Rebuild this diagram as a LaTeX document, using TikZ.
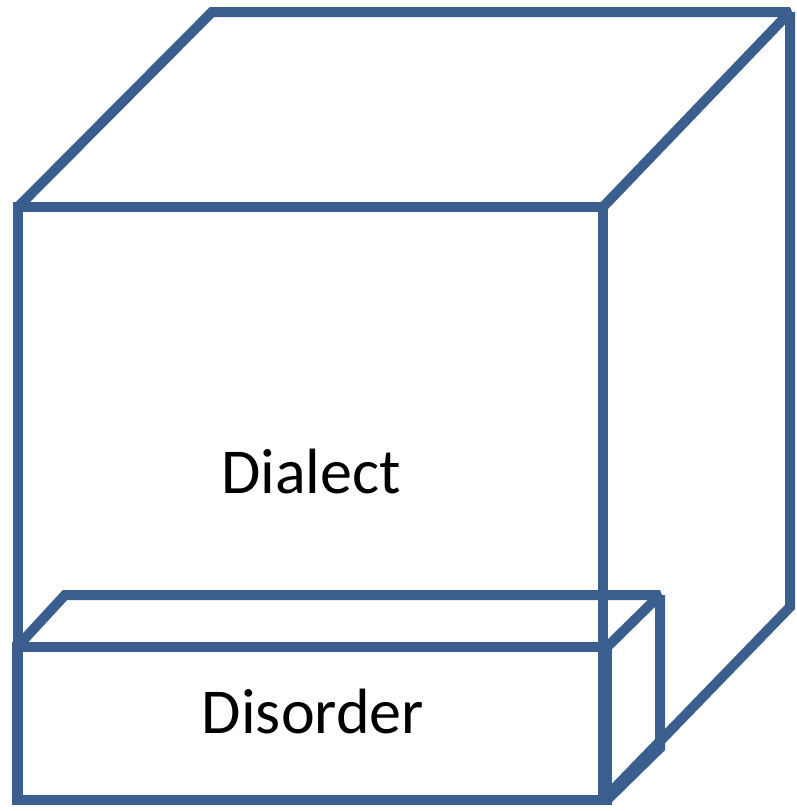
\documentclass[tikz,border=0pt]{standalone}
\usepackage{fontspec}
\setmainfont{Carlito}
\definecolor{edge}{HTML}{3A5F8E}
\begin{document}
\begin{tikzpicture}[x=1pt,y=-1pt,
  boxline/.style={draw=edge,line width=10pt,line join=miter,miter limit=2},
  lbl/.style={font=\fontsize{64}{66}\selectfont,anchor=base,inner sep=0pt}]
\useasboundingbox (0,0) rectangle (796,811);
% big cube corners
\coordinate (fa) at (18,207);
\coordinate (fb) at (603,207);
\coordinate (fc) at (603,800);
\coordinate (fd) at (18,800);
\coordinate (ba) at (212,12);
\coordinate (bb) at (790,12);
\coordinate (bc) at (790,607);
% small box corners
\coordinate (sa) at (17,647);
\coordinate (sb) at (607,647);
\coordinate (sc) at (607,800);
\coordinate (sd) at (17,800);
\coordinate (ta) at (65,595);
\coordinate (tb) at (660,595);
\coordinate (tc) at (660,748);
% big cube
\draw[boxline] (fa) -- (fb) -- (fc) -- (fd) -- cycle;
\draw[boxline] (fa) -- (ba) -- (bb) -- (fb);
\draw[boxline] (bb) -- (bc) -- (fc);
% small box
\draw[boxline] (sa) -- (sb) -- (sc) -- (sd) -- cycle;
\draw[boxline] (sa) -- (ta) -- (tb) -- (sb);
\draw[boxline] (tb) -- (tc) -- (sc);
% labels
\node[lbl] (dialect) at (311,493) {Dialect};
\node[lbl] (disorder) at (313,733) {Disorder};
\end{tikzpicture}
\end{document}
